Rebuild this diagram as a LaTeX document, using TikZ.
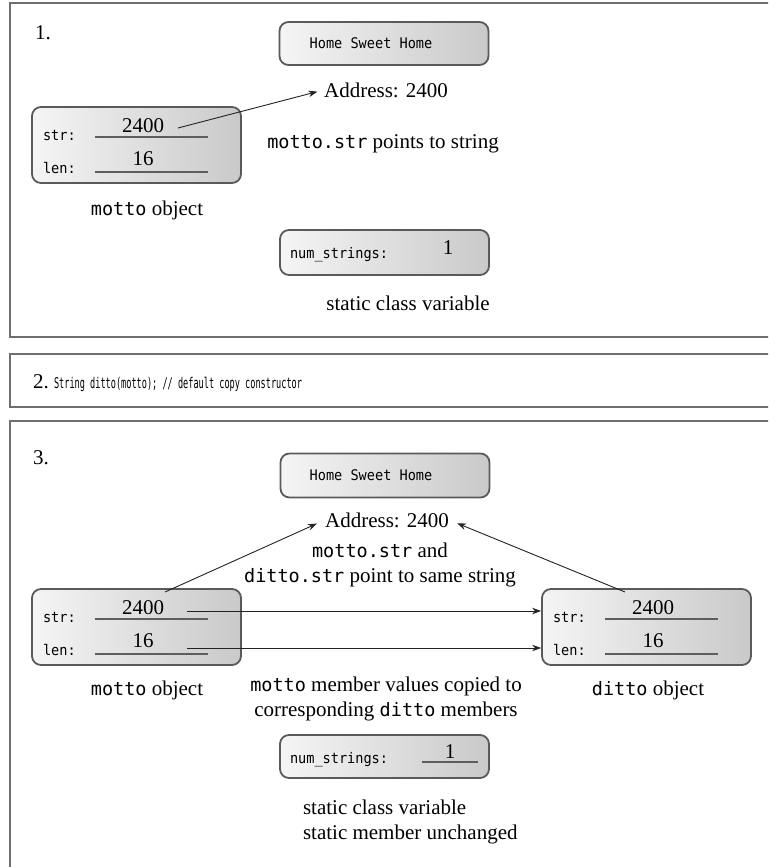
\documentclass[tikz,border=0pt]{standalone}
\usepackage{fontspec}
\setmainfont{Liberation Serif}
\newfontfamily\boxmonofam[FakeStretch=0.93]{DejaVu Sans Mono}
\newfontfamily\codemonofam[FakeStretch=0.58]{DejaVu Sans Mono}
\newfontfamily\capmonofam{DejaVu Sans Mono}
\newcommand\bxm{\boxmonofam\fontsize{14.6}{17}\selectfont}
\newcommand\cdm{\codemonofam\fontsize{14.8}{17}\selectfont}
\newcommand\capm{\capmonofam\fontsize{18.5}{25}\selectfont}
\usetikzlibrary{arrows.meta}
\definecolor{panelgray}{HTML}{6E6E6E}
\definecolor{boxedge}{HTML}{5A5A5A}
\definecolor{linegray}{HTML}{5E5E5E}
\definecolor{arrowc}{HTML}{222222}
\begin{document}
\begin{tikzpicture}[x=1pt,y=-1pt,
  font=\fontsize{21}{25}\selectfont,
  txt/.style={inner sep=0pt,outer sep=0pt},
  membox/.style={draw=boxedge,line width=1.8pt,rounded corners=9pt,
    left color=gray!8,right color=gray!42,minimum width=209pt,inner sep=0pt},
  valline/.style={draw=linegray,line width=1.6pt},
  ptr/.style={draw=arrowc,line width=0.9pt,-{Stealth[length=9pt,width=6.5pt]}},
  panel/.style={draw=panelgray,line width=2.4pt}]
\useasboundingbox (0,0) rectangle (768,867);
\clip (0,0) rectangle (768,867);

% ---------------- panel 1 ----------------
\draw[panel] (10,3) rectangle (790,337);
\node[txt,anchor=base west] (n1) at (35,40) {1.};
\node[membox,minimum height=43pt] (hsh1) at (384,43.5) {};
\node[txt] (hsh1t) at (371,43.5) {\bxm Home Sweet Home};
\node[txt,anchor=base] (addr1) at (386,97) {Address: 2400};

\node[membox,minimum height=76pt] (mot1) at (136.5,145) {};
\node[txt,anchor=base west] (mot1s) at (43,140) {\bxm str:};
\node[txt,anchor=base west] (mot1l) at (43,173) {\bxm len:};
\draw[valline] (95,137) -- (208,137);
\draw[valline] (95,172) -- (208,172);
\node[txt,anchor=base] (mot1sv) at (143,132) {2400};
\node[txt,anchor=base] (mot1lv) at (143,165) {16};
\coordinate (p1start) at (178,128);
\draw[ptr,shorten >=7pt] (p1start) -- (addr1.west);
\node[txt,anchor=base] (mot1c) at (147,215) {{\capm motto} object};
\node[txt,anchor=base] (cap1) at (383,148) {{\capm motto.str} points to string};

\node[membox,minimum height=45pt] (ns1) at (384.5,252.5) {};
\node[txt,anchor=base west] (ns1t) at (290,258) {\bxm num\_strings:};
\node[txt,anchor=base] (ns1v) at (448,254) {1};
\node[txt,anchor=base] (sc1) at (408,310) {static class variable};

% ---------------- panel 2 ----------------
\draw[panel] (10,354) rectangle (790,407);
\node[txt,anchor=base west] (n2) at (33,388) {2.};
\node[txt,anchor=base west] (code2) at (54,388) {\cdm String ditto(motto); // default copy constructor};

% ---------------- panel 3 ----------------
\draw[panel] (10,421) rectangle (790,900);
\node[txt,anchor=base west] (n3) at (33,464) {3.};
\node[membox,minimum height=44pt] (hsh3) at (385,475.5) {};
\node[txt] (hsh3t) at (371,475.5) {\bxm Home Sweet Home};
\node[txt,anchor=base] (addr3) at (387,527) {Address: 2400};
\node[txt,anchor=base,align=center] (cap3) at (380,582)
  {{\capm motto.str} and\\{\capm ditto.str} point to same string};

% motto box
\node[membox,minimum height=76pt] (mot3) at (136.5,627) {};
\node[txt,anchor=base west] (mot3s) at (43,622) {\bxm str:};
\node[txt,anchor=base west] (mot3l) at (43,655) {\bxm len:};
\draw[valline] (95,619) -- (208,619);
\draw[valline] (95,654) -- (208,654);
\node[txt,anchor=base] (mot3sv) at (143,614) {2400};
\node[txt,anchor=base] (mot3lv) at (143,647) {16};

% ditto box
\node[membox,minimum height=76pt] (dit3) at (646.5,627) {};
\node[txt,anchor=base west] (dit3s) at (553,622) {\bxm str:};
\node[txt,anchor=base west] (dit3l) at (553,655) {\bxm len:};
\draw[valline] (605,619) -- (718,619);
\draw[valline] (605,654) -- (718,654);
\node[txt,anchor=base] (dit3sv) at (653,614) {2400};
\node[txt,anchor=base] (dit3lv) at (653,647) {16};

% pointers
\coordinate (p3l) at (165,592);
\coordinate (p3r) at (625,592);
\draw[ptr,shorten >=9pt] (p3l) -- (addr3.west);
\draw[ptr,shorten >=9pt] (p3r) -- (addr3.east);
\coordinate (c3s) at (187,611);
\coordinate (c3l) at (187,648);
\draw[ptr] (c3s) -- (c3s -| dit3.west);
\draw[ptr] (c3l) -- (c3l -| dit3.west);

\node[txt,anchor=base] (mot3c) at (147,695) {{\capm motto} object};
\node[txt,anchor=base] (dit3c) at (648,695) {{\capm ditto} object};
\node[txt,anchor=base,align=center] (cap3b) at (386,716)
  {{\capm motto} member values copied to\\corresponding {\capm ditto} members};

\node[membox,minimum height=43pt] (ns3) at (384.5,756.5) {};
\node[txt,anchor=base west] (ns3t) at (290,763) {\bxm num\_strings:};
\draw[valline] (422,762) -- (478,762);
\node[txt,anchor=base] (ns3v) at (450,758) {1};
\node[txt,anchor=base west,align=left] (sc3) at (303,839)
  {static class variable\\static member unchanged};
\end{tikzpicture}
\end{document}
